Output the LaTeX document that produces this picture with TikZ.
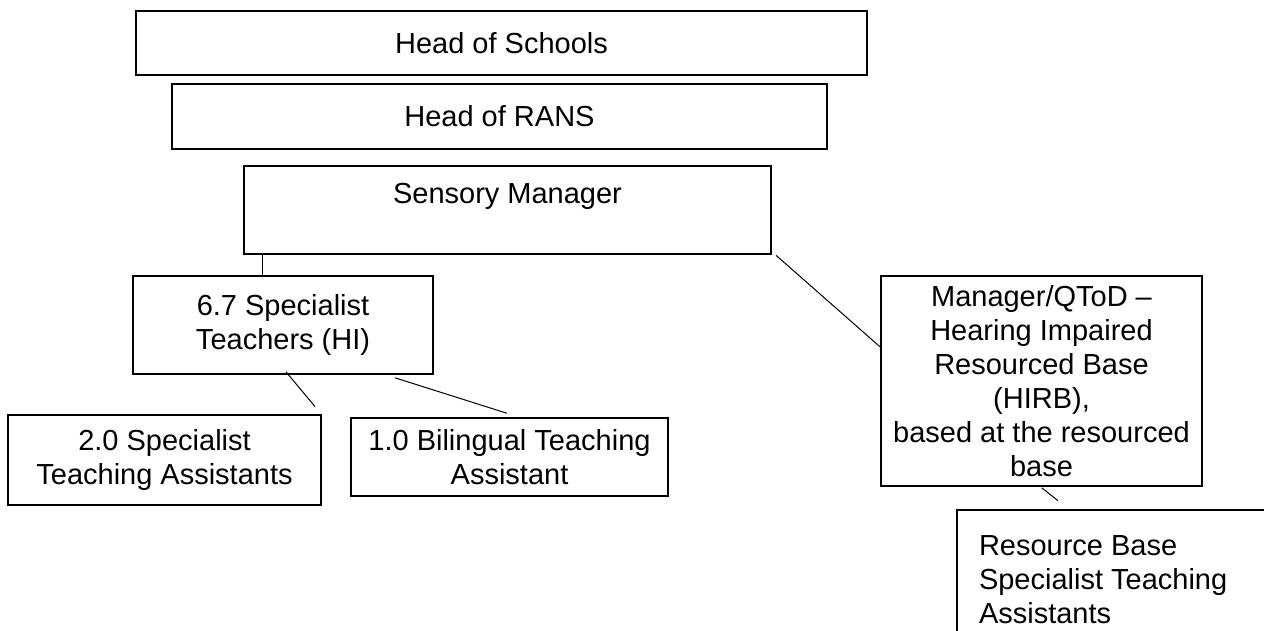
\documentclass[tikz,border=0pt]{standalone}
\usepackage{fontspec}
\setmainfont{Liberation Sans}
\usetikzlibrary{calc}
\tikzset{
	orgbox/.style={draw, line width=1.1pt, inner sep=0pt, align=center, font=\fontsize{14.5}{17}\selectfont},
	link/.style={line width=0.5pt}
}
\begin{document}
\begin{tikzpicture}[x=0.5pt, y=-0.5pt]
		\useasboundingbox (0,0) rectangle (1264,631);
		\node[orgbox, minimum width=365.5pt, minimum height=32pt] (hs) at (501.5,43) {Head of Schools};
		\node[orgbox, minimum width=327.5pt, minimum height=32.5pt] (hr) at (499.5,116.5) {Head of RANS};
		\node[orgbox, minimum width=263.5pt, minimum height=44pt] (sm) at (507.5,210) {Sensory Manager\\\mbox{}};
		\node[orgbox, minimum width=150pt, minimum height=49pt] (st) at (283,325) {6.7 Specialist\\Teachers (HI)};
		\node[orgbox, minimum width=156.5pt, minimum height=45pt] (sta) at (164.5,460) {2.0 Specialist\\Teaching Assistants};
		\node[orgbox, minimum width=158.5pt, minimum height=39pt] (bta) at (509.5,457) {1.0 Bilingual Teaching\\Assistant};
		\node[orgbox, minimum width=160.5pt, minimum height=105pt] (mq) at (1041.5,381) {Manager/QToD --\\Hearing Impaired\\Resourced Base\\(HIRB),\\based at the resourced\\base};
		\node[orgbox, align=flush left, text width=149.5pt, minimum width=171.5pt, minimum height=70pt] (rb) at (1128.5,580) {Resource Base\\Specialist Teaching\\Assistants};
		\path ([xshift=9.85pt]sm.south west) coordinate (smleg);
		\draw[link] (smleg) -- (smleg |- st.north);
		\draw[link] ($(sm.south east)+(4,0.3)$) -- ($(mq.west)+(0,-34.3)$);
		\draw[link] ($(st.south)+(3,-3.3)$) -- ($(sta.north)+(150.5,-7.3)$);
		\draw[link] ($(st.south)+(112,2.7)$) -- ($(bta.north)+(-2.8,-3.7)$);
		\draw[link] ($(mq.south)+(0.2,0.7)$) -- ($(rb.north west)+(102,-8.3)$);
	\end{tikzpicture}
\end{document}
